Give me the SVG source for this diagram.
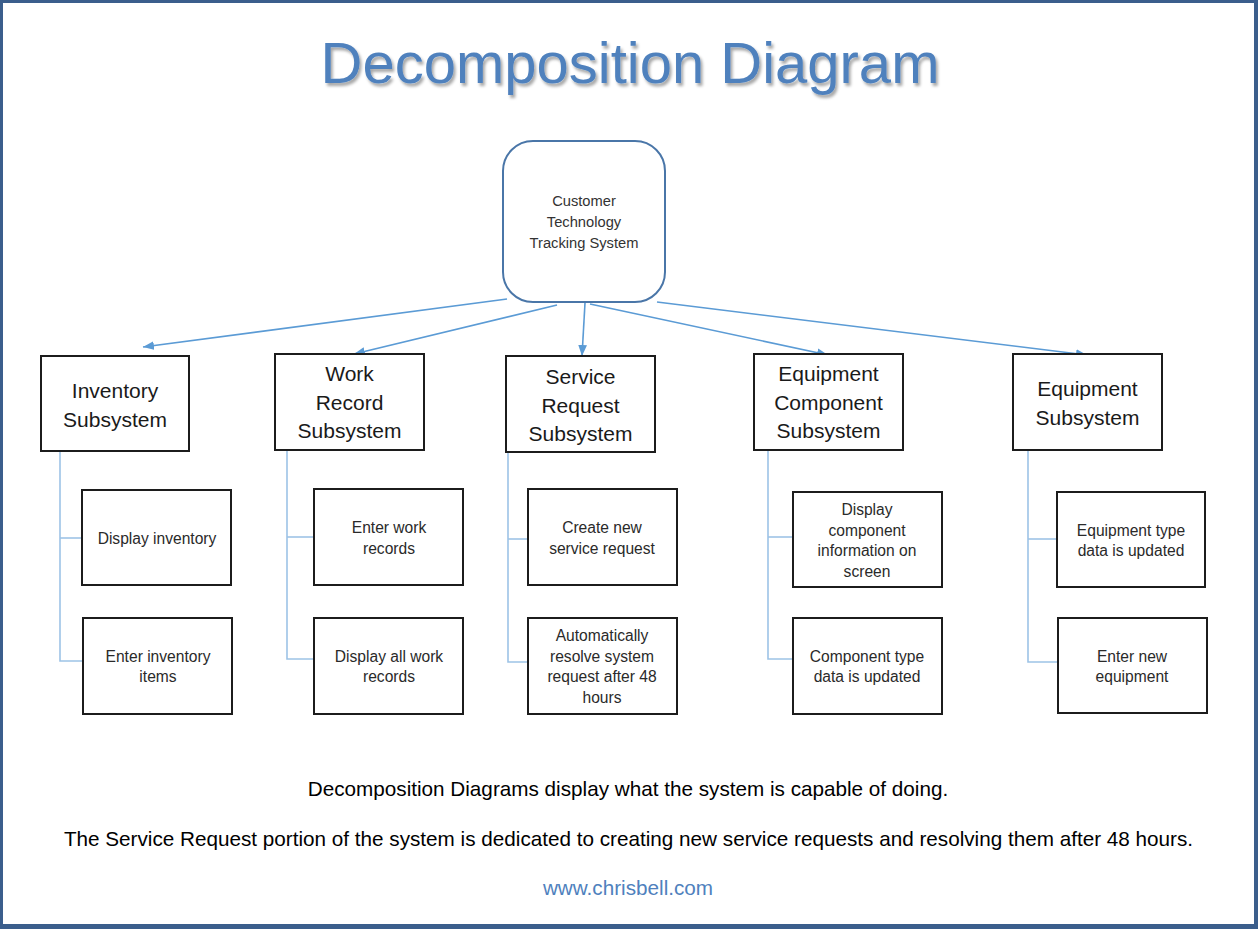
<svg xmlns="http://www.w3.org/2000/svg" width="1258" height="929" viewBox="0 0 1258 929">
  <style>
    .title { font-family: "Liberation Sans", Arial, sans-serif; font-size: 58px; fill: #4f81bd; text-anchor: middle; }
    .root-box { fill: #ffffff; stroke: #4a76a8; stroke-width: 2; }
    .root-text { font-family: "Liberation Sans", Arial, sans-serif; font-size: 14.7px; fill: #333333; text-anchor: middle; }
    .sub-box { fill: #ffffff; stroke: #1c1c1c; stroke-width: 2; }
    .sub-text { font-family: "Liberation Sans", Arial, sans-serif; font-size: 21px; fill: #1a1a1a; text-anchor: middle; }
    .leaf-box { fill: #ffffff; stroke: #1c1c1c; stroke-width: 2; }
    .leaf-text { font-family: "Liberation Sans", Arial, sans-serif; font-size: 15.6px; fill: #2a2a2a; text-anchor: middle; }
    .arrow { stroke: #5b9bd5; stroke-width: 1.6; fill: none; marker-end: url(#ah); }
    .tree { stroke: #9dc3e6; stroke-width: 1.6; fill: none; }
    .foot { font-family: "Liberation Sans", Arial, sans-serif; font-size: 20.7px; fill: #000000; text-anchor: middle; }
    .link { font-family: "Liberation Sans", Arial, sans-serif; font-size: 20.7px; fill: #4f81bd; text-anchor: middle; }
  </style>
  <defs>
    <marker id="ah" viewBox="0 0 10 8" refX="10" refY="4" markerWidth="11" markerHeight="9" markerUnits="userSpaceOnUse" orient="auto">
      <path d="M0,0 L10,4 L0,8 Z" fill="#5b9bd5"/>
    </marker>
    <filter id="shadow" x="-5%" y="-20%" width="110%" height="150%">
      <feDropShadow dx="2" dy="3" stdDeviation="1.5" flood-color="#000000" flood-opacity="0.35"/>
    </filter>
  </defs>

  <!-- frame -->
  <rect x="0" y="0" width="1258" height="929" fill="#3b5e8c"/>
  <rect x="3" y="3" width="1251" height="921" fill="#ffffff"/>

  <text class="title" x="630" y="83" filter="url(#shadow)">Decomposition Diagram</text>

  <g id="connectors">
    <line class="arrow" x1="507" y1="299" x2="143" y2="347"/>
    <line class="arrow" x1="557" y1="305" x2="354" y2="354"/>
    <line class="arrow" x1="585" y1="303" x2="582" y2="356"/>
    <line class="arrow" x1="590" y1="304" x2="828" y2="355"/>
    <line class="arrow" x1="657" y1="302" x2="1087" y2="355"/>

    <polyline class="tree" points="60,451 60,661 83,661"/>
    <line class="tree" x1="60" y1="538" x2="82" y2="538"/>
    <polyline class="tree" points="287,450 287,659 314,659"/>
    <line class="tree" x1="287" y1="537" x2="314" y2="537"/>
    <polyline class="tree" points="508,452 508,662 528,662"/>
    <line class="tree" x1="508" y1="539" x2="528" y2="539"/>
    <polyline class="tree" points="768,450 768,659 793,659"/>
    <line class="tree" x1="768" y1="537" x2="793" y2="537"/>
    <polyline class="tree" points="1028,450 1028,662 1058,662"/>
    <line class="tree" x1="1028" y1="539" x2="1057" y2="539"/>
  </g>

  <g id="root">
    <rect class="root-box" x="503" y="141" width="162" height="161" rx="30" ry="30"/>
    <text class="root-text" x="584" y="206">Customer</text>
    <text class="root-text" x="584" y="227">Technology</text>
    <text class="root-text" x="584" y="248">Tracking System</text>
  </g>

  <g id="inventory-subsystem">
    <rect class="sub-box" x="41" y="356" width="148" height="95"/>
    <text class="sub-text" x="115" y="398">Inventory</text>
    <text class="sub-text" x="115" y="427">Subsystem</text>
  </g>
  <g id="work-record-subsystem">
    <rect class="sub-box" x="275" y="354" width="149" height="96"/>
    <text class="sub-text" x="349.5" y="381">Work</text>
    <text class="sub-text" x="349.5" y="409.5">Record</text>
    <text class="sub-text" x="349.5" y="438">Subsystem</text>
  </g>
  <g id="service-request-subsystem">
    <rect class="sub-box" x="506" y="356" width="149" height="96"/>
    <text class="sub-text" x="580.5" y="384">Service</text>
    <text class="sub-text" x="580.5" y="412.5">Request</text>
    <text class="sub-text" x="580.5" y="441">Subsystem</text>
  </g>
  <g id="equipment-component-subsystem">
    <rect class="sub-box" x="754" y="354" width="149" height="96"/>
    <text class="sub-text" x="828.5" y="381">Equipment</text>
    <text class="sub-text" x="828.5" y="409.5">Component</text>
    <text class="sub-text" x="828.5" y="438">Subsystem</text>
  </g>
  <g id="equipment-subsystem">
    <rect class="sub-box" x="1013" y="354" width="149" height="96"/>
    <text class="sub-text" x="1087.5" y="396">Equipment</text>
    <text class="sub-text" x="1087.5" y="425">Subsystem</text>
  </g>

  <g id="display-inventory">
    <rect class="leaf-box" x="82" y="490" width="149" height="95"/>
    <text class="leaf-text" x="157" y="543.5">Display inventory</text>
  </g>
  <g id="enter-inventory-items">
    <rect class="leaf-box" x="83" y="618" width="149" height="96"/>
    <text class="leaf-text" x="158" y="661.5">Enter inventory</text>
    <text class="leaf-text" x="158" y="681.5">items</text>
  </g>
  <g id="enter-work-records">
    <rect class="leaf-box" x="314" y="489" width="149" height="96"/>
    <text class="leaf-text" x="389" y="532.5">Enter work</text>
    <text class="leaf-text" x="389" y="553.5">records</text>
  </g>
  <g id="display-all-work-records">
    <rect class="leaf-box" x="314" y="618" width="149" height="96"/>
    <text class="leaf-text" x="389" y="661.5">Display all work</text>
    <text class="leaf-text" x="389" y="681.5">records</text>
  </g>
  <g id="create-new-service-request">
    <rect class="leaf-box" x="528" y="489" width="149" height="96"/>
    <text class="leaf-text" x="602" y="532.5">Create new</text>
    <text class="leaf-text" x="602" y="553.5">service request</text>
  </g>
  <g id="auto-resolve">
    <rect class="leaf-box" x="528" y="618" width="149" height="96"/>
    <text class="leaf-text" x="602" y="640.5">Automatically</text>
    <text class="leaf-text" x="602" y="661.5">resolve system</text>
    <text class="leaf-text" x="602" y="681.5">request after 48</text>
    <text class="leaf-text" x="602" y="702.5">hours</text>
  </g>
  <g id="display-component-info">
    <rect class="leaf-box" x="793" y="492" width="149" height="95"/>
    <text class="leaf-text" x="867" y="514.5">Display</text>
    <text class="leaf-text" x="867" y="535.5">component</text>
    <text class="leaf-text" x="867" y="555.5">information on</text>
    <text class="leaf-text" x="867" y="576.5">screen</text>
  </g>
  <g id="component-type-updated">
    <rect class="leaf-box" x="793" y="618" width="149" height="96"/>
    <text class="leaf-text" x="867" y="661.5">Component type</text>
    <text class="leaf-text" x="867" y="681.5">data is updated</text>
  </g>
  <g id="equipment-type-updated">
    <rect class="leaf-box" x="1057" y="492" width="148" height="95"/>
    <text class="leaf-text" x="1131" y="535.5">Equipment type</text>
    <text class="leaf-text" x="1131" y="555.5">data is updated</text>
  </g>
  <g id="enter-new-equipment">
    <rect class="leaf-box" x="1058" y="618" width="149" height="95"/>
    <text class="leaf-text" x="1132" y="661.5">Enter new</text>
    <text class="leaf-text" x="1132" y="681.5">equipment</text>
  </g>

  <text class="foot" x="628" y="796">Decomposition Diagrams display what the system is capable of doing.</text>
  <text class="foot" x="628.5" y="846">The Service Request portion of the system is dedicated to creating new service requests and resolving them after 48 hours.</text>
  <text class="link" x="628" y="895">www.chrisbell.com</text>
</svg>
